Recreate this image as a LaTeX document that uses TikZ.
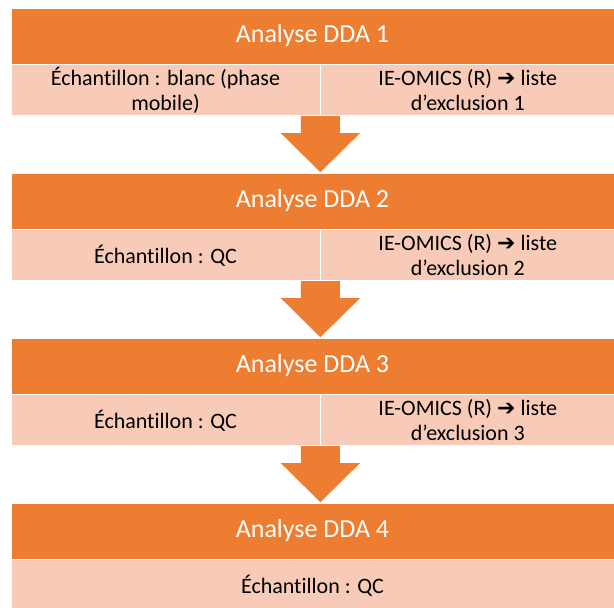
\documentclass[tikz,border=0pt]{standalone}
\usepackage{fontspec}
\setmainfont{Carlito}[Ligatures=NoCommon]
\newfontfamily\symfont{DejaVu Sans Bold}
\usetikzlibrary{positioning}
\definecolor{ddaorange}{HTML}{ED7D31}
\definecolor{ddapink}{HTML}{F8CBB8}
\tikzset{dda/head/.style={fill=ddaorange, draw=white, line width=0.8pt, text=white, inner sep=0pt,
    minimum width=603pt, minimum height=56pt, font=\fontsize{26}{30}\selectfont},
  dda/cell/.style={fill=ddapink, draw=white, line width=0.8pt, inner sep=0pt, align=center,
    minimum height=51pt, font=\fontsize{22}{25}\selectfont}}

\begin{document}
\begin{tikzpicture}[x=1pt, y=1pt]
  \useasboundingbox (0,0) rectangle (614,608);
  \foreach \i in {1,2,3,4}
    \node[dda/head] (head\i) at (312.5,{572-165*(\i-1)}) {Analyse DDA \i};

  \node[dda/cell, minimum width=309pt, anchor=north west] (samp1) at (head1.south west) {Échantillon : blanc (phase\\mobile)};
  \node[dda/cell, minimum width=294pt, anchor=north west] (excl1) at (samp1.north east) {IE-OMICS (R) {\symfont ➔} liste\\d’exclusion 1};
  \node[dda/cell, minimum width=309pt, anchor=north west] (samp2) at (head2.south west) {Échantillon : QC};
  \node[dda/cell, minimum width=294pt, anchor=north west] (excl2) at (samp2.north east) {IE-OMICS (R) {\symfont ➔} liste\\d’exclusion 2};
  \node[dda/cell, minimum width=309pt, anchor=north west] (samp3) at (head3.south west) {Échantillon : QC};
  \node[dda/cell, minimum width=294pt, anchor=north west] (excl3) at (samp3.north east) {IE-OMICS (R) {\symfont ➔} liste\\d’exclusion 3};
  \node[dda/cell, minimum width=603pt, anchor=north west] (samp4) at (head4.south west) {Échantillon : QC};

  % block arrows between the steps
  \foreach \i in {1,2,3}
    \fill[ddaorange] (samp\i.south east) ++(-19.5,0) -- ++(39,0) -- ++(0,-17) -- ++(20,0)
      -- ++(-39.5,-39) -- ++(-39.5,39) -- ++(20,0) -- cycle;
\end{tikzpicture}
\end{document}
